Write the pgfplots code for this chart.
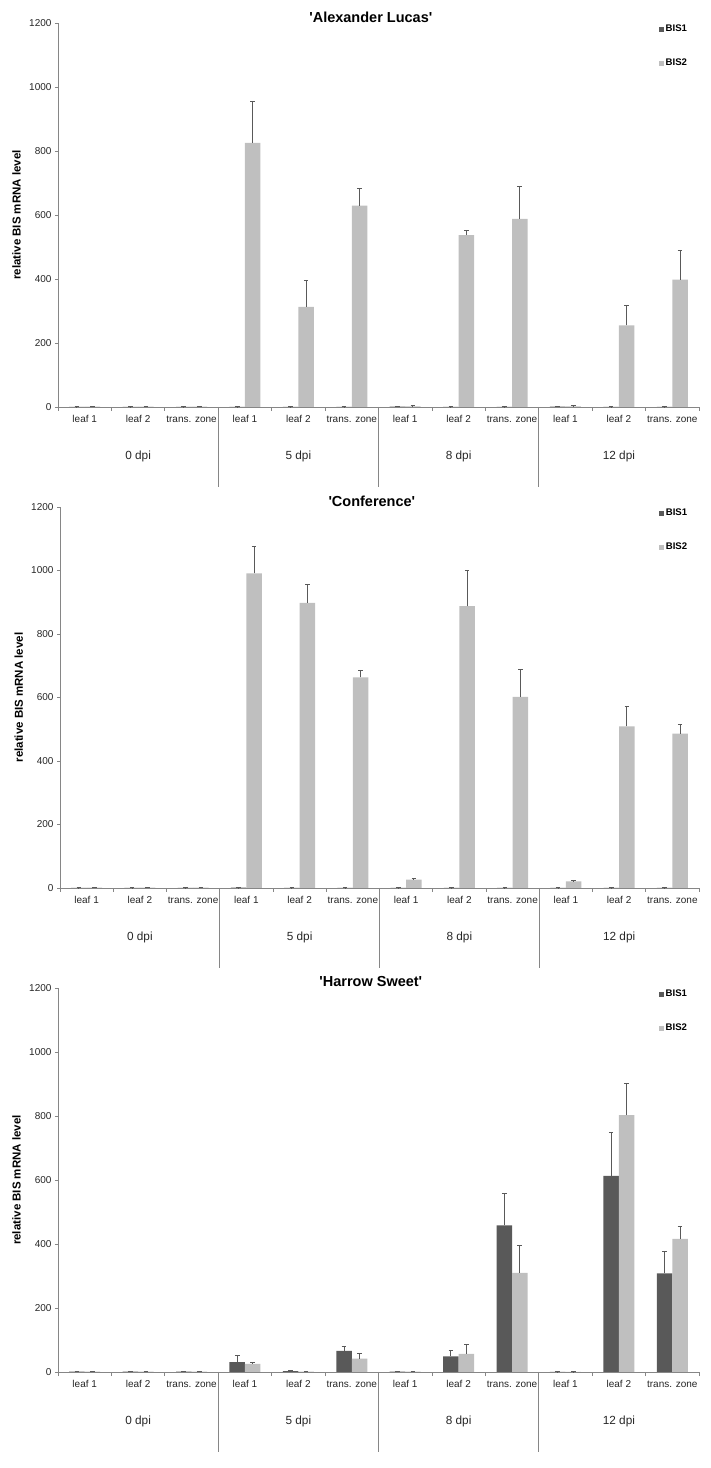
\documentclass[border=0pt]{standalone}
\usepackage{pgfplots}
\usepackage{pgfplotstable}
\pgfplotsset{compat=1.18}
\usepackage{fontspec}
\setmainfont{Liberation Sans}
\definecolor{bisone}{HTML}{595959}
\definecolor{bistwo}{HTML}{BFBFBF}
\definecolor{axgray}{HTML}{868686}

\pgfplotstableread{
x    b1   e1   b2   e2
0.5  0.5  0.5  1    1
1.5  0.3  0.3  1    1
2.5  0.5  0.5  1    1
3.5  0.5  0.5  825  130
4.5  0.5  0.5  313  83
5.5  0.5  0.5  629  55
6.5  1    1    2    2
7.5  0.5  0.5  537  16
8.5  0.5  0.5  588  100
9.5  1    1    2    2
10.5 0.5  0.5  255  63
11.5 0.5  0.5  398  90
}\alexander

\pgfplotstableread{
x    b1   e1   b2   e2
0.5  0.5  0.5  1    1
1.5  0.5  0.5  1    1
2.5  0.5  0.5  1    1
3.5  1    0.5  991  85
4.5  0.5  0.5  898  59
5.5  0.5  0.5  663  22
6.5  0.5  0.5  26   4
7.5  0.5  0.5  888  113
8.5  0.5  0.5  602  86
9.5  0.5  0.5  21   2
10.5 0.5  0.5  509  63
11.5 0.5  0.5  486  30
}\conference

\pgfplotstableread{
x    b1   e1   b2   e2
0.5  1    1    1    1
1.5  1    1    1    1
2.5  1    1    1    1
3.5  31   19   25   4
4.5  3    1    1    1
5.5  66   13   42   15
6.5  1    1    1    1
7.5  49   17   57   29
8.5  458  99   310  86
9.5  0.5  0.5  0.5  0.5
10.5 613  135  803  99
11.5 308  69   416  38
}\harrow

\pgfplotsset{
  bisaxis/.style={
    scale only axis,
    anchor=south west,
    clip=false,
    ybar=0pt, bar width=15.5pt,
    ymin=0, ymax=1200, ytick={0,200,...,1200},
    xmin=0, xmax=12,
    xtick={0.5,1.5,...,11.5},
    xticklabels={leaf 1, leaf 2, trans. zone, leaf 1, leaf 2, trans. zone, leaf 1, leaf 2, trans. zone, leaf 1, leaf 2, trans. zone},
    minor xtick={0,1,...,12},
    major x tick style={draw=none},
    axis x line*=bottom, axis y line*=left,
    axis line style={axgray, line width=0.8pt, -},
    tick style={axgray, line width=0.8pt},
    tick align=outside,
    major tick length=3pt, minor tick length=4pt,
    /pgf/number format/assume math mode=true,
    /pgf/number format/1000 sep={},
    ticklabel style={font=\fontsize{10}{12}\selectfont, text=black!85},
    xticklabel style={anchor=center, yshift=-9pt},
    ylabel={relative BIS mRNA level},
    ylabel style={at={(axis description cs:-0.0647,0.5)}, anchor=center, font=\bfseries\fontsize{11.5}{13}\selectfont},
    title style={at={(axis description cs:0.488,1)}, anchor=center, font=\bfseries\fontsize{14.5}{17}\selectfont},
    legend style={at={(axis description cs:0.9376,1.0)}, anchor=north west, draw=none, fill=none,
      font=\bfseries\fontsize{9.6}{11}\selectfont, row sep=22.7pt, inner sep=0pt, yshift=-0.5pt,
      nodes={inner sep=1.5pt}},
    legend cell align=left,
  },
  bisone style/.style={fill=bisone, draw=none,
    legend image code/.code={\fill[bisone] (0pt,-2.5pt) rectangle (5pt,2.5pt);},
    error bars/.cd, y dir=plus, y explicit,
    error bar style={bisone, line width=1pt},
    error mark options={bisone, line width=1pt, mark size=2.3pt, rotate=90}},
  bistwo style/.style={fill=bistwo, draw=none,
    legend image code/.code={\fill[bistwo] (0pt,-2.5pt) rectangle (5pt,2.5pt);},
    error bars/.cd, y dir=plus, y explicit,
    error bar style={bisone, line width=1pt},
    error mark options={bisone, line width=1pt, mark size=2.3pt, rotate=90}},
}

\newcommand{\groupdecor}{%
  \draw[axgray, line width=0.8pt] (axis cs:3,0) -- ++(0pt,-80pt);
  \draw[axgray, line width=0.8pt] (axis cs:6,0) -- ++(0pt,-80pt);
  \draw[axgray, line width=0.8pt] (axis cs:9,0) -- ++(0pt,-80pt);
  \node[font=\fontsize{11.8}{14}\selectfont, text=black!85] at ([yshift=-49pt]axis cs:1.5,0) {0 dpi};
  \node[font=\fontsize{11.8}{14}\selectfont, text=black!85] at ([yshift=-49pt]axis cs:4.5,0) {5 dpi};
  \node[font=\fontsize{11.8}{14}\selectfont, text=black!85] at ([yshift=-49pt]axis cs:7.5,0) {8 dpi};
  \node[font=\fontsize{11.8}{14}\selectfont, text=black!85] at ([yshift=-49pt]axis cs:10.5,0) {12 dpi};
}

\begin{document}
\begin{tikzpicture}
\useasboundingbox (0,0) rectangle (711pt,1468pt);

\begin{axis}[bisaxis, at={(58pt,1061pt)}, width=641pt, height=384pt,
  title={\textquotesingle Alexander Lucas\textquotesingle}]
\addplot[bisone style] table[x=x, y=b1, y error=e1] {\alexander};
\addplot[bistwo style] table[x=x, y=b2, y error=e2] {\alexander};
\legend{BIS1,BIS2}
\groupdecor
\end{axis}

\begin{axis}[bisaxis, at={(60pt,580pt)}, width=639pt, height=381pt,
  title={\textquotesingle Conference\textquotesingle}]
\addplot[bisone style] table[x=x, y=b1, y error=e1] {\conference};
\addplot[bistwo style] table[x=x, y=b2, y error=e2] {\conference};
\legend{BIS1,BIS2}
\groupdecor
\end{axis}

\begin{axis}[bisaxis, at={(58pt,96pt)}, width=641pt, height=384pt,
  title={\textquotesingle Harrow Sweet\textquotesingle}]
\addplot[bisone style] table[x=x, y=b1, y error=e1] {\harrow};
\addplot[bistwo style] table[x=x, y=b2, y error=e2] {\harrow};
\legend{BIS1,BIS2}
\groupdecor
\end{axis}
\end{tikzpicture}
\end{document}
